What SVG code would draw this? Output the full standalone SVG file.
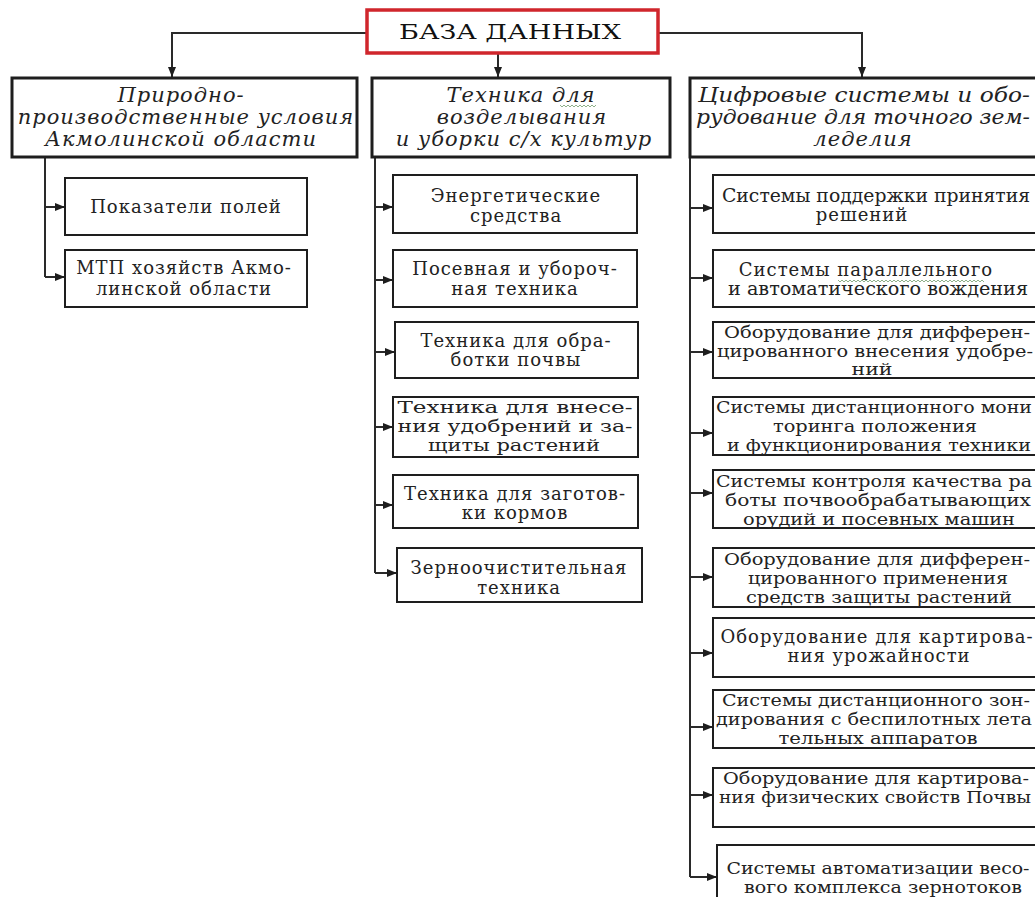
<svg xmlns="http://www.w3.org/2000/svg" width="1035" height="897" viewBox="0 0 1035 897">
<style>
.bg{fill:#fff}
.box{fill:#fff;stroke:#1e1e1e;stroke-width:2}
.hdr{fill:#fff;stroke:#1e1e1e;stroke-width:3}
.root{fill:#fff;stroke:#d0262c;stroke-width:3.5}
.t{font-family:"DejaVu Serif","Liberation Serif",serif;font-size:18px;letter-spacing:1px;fill:#222;text-anchor:middle}
.u{font-family:"DejaVu Serif","Liberation Serif",serif;font-size:18px;fill:#222;text-anchor:middle}
.s{font-family:"DejaVu Serif","Liberation Serif",serif;font-size:16px;fill:#222;text-anchor:middle}
.h{font-family:"DejaVu Serif","Liberation Serif",serif;font-size:21px;letter-spacing:1px;font-style:italic;fill:#222;text-anchor:middle}
.hn{font-family:"DejaVu Serif","Liberation Serif",serif;font-size:21px;font-style:italic;fill:#222;text-anchor:middle}
.ttl{font-family:"DejaVu Serif","Liberation Serif",serif;font-size:21px;fill:#111;text-anchor:middle}
.c{fill:none;stroke:#2a2a2a;stroke-width:2}
.sq{fill:none;stroke:#8fb08a;stroke-width:1}
</style>
<defs>
<marker id="ah" markerUnits="userSpaceOnUse" markerWidth="10" markerHeight="8" refX="10" refY="4" orient="auto">
<path d="M0,0 L10,4 L0,8 z" fill="#1e1e1e"/>
</marker>
</defs>
<rect class="bg" x="0" y="0" width="1035" height="897"/>

<g id="connectors">
<path class="c" d="M367,33 H172 V77" marker-end="url(#ah)"/>
<path class="c" d="M498,53 V77" marker-end="url(#ah)"/>
<path class="c" d="M658,33 H862 V77" marker-end="url(#ah)"/>
<path class="c" d="M45,157 V277"/>
<path class="c" d="M45,207 H65" marker-end="url(#ah)"/>
<path class="c" d="M45,277 H65" marker-end="url(#ah)"/>
<path class="c" d="M375,157 V573"/>
<path class="c" d="M375,207 H393" marker-end="url(#ah)"/>
<path class="c" d="M375,280 H393" marker-end="url(#ah)"/>
<path class="c" d="M375,352 H395" marker-end="url(#ah)"/>
<path class="c" d="M375,427 H393" marker-end="url(#ah)"/>
<path class="c" d="M375,505 H393" marker-end="url(#ah)"/>
<path class="c" d="M375,573 H397" marker-end="url(#ah)"/>
<path class="c" d="M690,157 V877"/>
<path class="c" d="M690,208 H713" marker-end="url(#ah)"/>
<path class="c" d="M690,278 H713" marker-end="url(#ah)"/>
<path class="c" d="M690,352 H713" marker-end="url(#ah)"/>
<path class="c" d="M690,433 H713" marker-end="url(#ah)"/>
<path class="c" d="M690,493 H713" marker-end="url(#ah)"/>
<path class="c" d="M690,577 H713" marker-end="url(#ah)"/>
<path class="c" d="M690,653 H713" marker-end="url(#ah)"/>
<path class="c" d="M690,727 H713" marker-end="url(#ah)"/>
<path class="c" d="M690,795 H713" marker-end="url(#ah)"/>
<path class="c" d="M690,877 H717" marker-end="url(#ah)"/>
</g>

<g id="root">
<rect class="root" x="367" y="10" width="291" height="43"/>
<text class="ttl" x="510" y="39" textLength="222" lengthAdjust="spacingAndGlyphs">БАЗА ДАННЫХ</text>
</g>

<g id="h1">
<rect class="hdr" x="12" y="78" width="345" height="79"/>
<text class="h" x="181" y="102">Природно-</text>
<text class="h" x="186" y="124">производственные условия</text>
<text class="h" x="181" y="146">Акмолинской области</text>
</g>
<g id="h2">
<rect class="hdr" x="372" y="78" width="298" height="79"/>
<text class="h" x="521" y="102">Техника для</text>
<path class="sq" d="M560,105 l2,2 l2,-2 l2,2 l2,-2 l2,2 l2,-2 l2,2 l2,-2 l2,2 l2,-2 l2,2 l2,-2 l2,2 l2,-2 l2,2 l2,-2 l2,2 l2,-2"/>
<text class="h" x="522" y="124">возделывания</text>
<text class="h" x="524" y="146">и уборки с/х культур</text>
</g>
<g id="h3">
<rect class="hdr" x="690" y="78" width="360" height="79"/>
<text class="hn" x="864" y="102" textLength="332" lengthAdjust="spacingAndGlyphs">Цифровые системы и обо-</text>
<text class="hn" x="863" y="124" textLength="334" lengthAdjust="spacingAndGlyphs">рудование для точного зем-</text>
<text class="h" x="863" y="146">леделия</text>
</g>

<g id="n-pokazateli">
<rect class="box" x="65" y="178" width="242" height="57"/>
<text class="t" x="186" y="213">Показатели полей</text>
</g>
<g id="n-mtp">
<rect class="box" x="65" y="250" width="242" height="57"/>
<text class="t" x="184" y="274">МТП хозяйств Акмо-</text>
<text class="t" x="184" y="295">линской области</text>
</g>

<g id="n-energ">
<rect class="box" x="393" y="175" width="244" height="58"/>
<text class="t" x="516" y="202">Энергетические</text>
<text class="t" x="516" y="222">средства</text>
</g>
<g id="n-posev">
<rect class="box" x="393" y="250" width="244" height="57"/>
<text class="t" x="515" y="275">Посевная и убороч-</text>
<text class="t" x="515" y="295">ная техника</text>
</g>
<g id="n-obrab">
<rect class="box" x="395" y="322" width="243" height="56"/>
<text class="t" x="516" y="347">Техника для обра-</text>
<text class="t" x="516" y="366">ботки почвы</text>
</g>
<g id="n-vnes">
<rect class="box" x="393" y="397" width="245" height="60"/>
<text class="s" x="515" y="413" textLength="235" lengthAdjust="spacingAndGlyphs">Техника для внесе-</text>
<text class="s" x="515" y="432" textLength="235" lengthAdjust="spacingAndGlyphs">ния удобрений и за-</text>
<text class="s" x="514" y="451" textLength="172" lengthAdjust="spacingAndGlyphs">щиты растений</text>
</g>
<g id="n-korm">
<rect class="box" x="393" y="475" width="245" height="53"/>
<text class="t" x="515" y="500">Техника для заготов-</text>
<text class="t" x="515" y="519">ки кормов</text>
</g>
<g id="n-zerno">
<rect class="box" x="397" y="548" width="245" height="54"/>
<text class="t" x="519" y="574">Зерноочистительная</text>
<text class="t" x="519" y="594">техника</text>
</g>

<g id="r1">
<rect class="box" x="713" y="175" width="340" height="58"/>
<text class="u" x="876" y="202" textLength="308" lengthAdjust="spacingAndGlyphs">Системы поддержки принятия</text>
<text class="t" x="862" y="221">решений</text>
</g>
<g id="r2">
<rect class="box" x="713" y="250" width="340" height="57"/>
<text class="t" x="866" y="276">Системы параллельного</text>
<path class="sq" d="M838,280 l2,2 l2,-2 l2,2 l2,-2 l2,2 l2,-2 l2,2 l2,-2 l2,2 l2,-2 l2,2 l2,-2 l2,2 l2,-2 l2,2 l2,-2 l2,2 l2,-2 l2,2 l2,-2 l2,2 l2,-2 l2,2 l2,-2 l2,2 l2,-2 l2,2 l2,-2 l2,2 l2,-2 l2,2 l2,-2 l2,2 l2,-2 l2,2 l2,-2 l2,2 l2,-2 l2,2 l2,-2 l2,2 l2,-2 l2,2 l2,-2 l2,2 l2,-2 l2,2 l2,-2 l2,2 l2,-2 l2,2 l2,-2 l2,2 l2,-2 l2,2 l2,-2 l2,2 l2,-2 l2,2 l2,-2 l2,2 l2,-2 l2,2 l2,-2 l2,2 l2,-2 l2,2 l2,-2 l2,2 l2,-2 l2,2 l2,-2 l2,2"/>
<text class="u" x="878" y="295" textLength="300" lengthAdjust="spacingAndGlyphs">и автоматического вождения</text>
</g>
<g id="r3">
<rect class="box" x="713" y="322" width="340" height="56"/>
<text class="s" x="877" y="338" textLength="306" lengthAdjust="spacingAndGlyphs">Оборудование для дифферен-</text>
<text class="s" x="875" y="357" textLength="316" lengthAdjust="spacingAndGlyphs">цированного внесения удобре-</text>
<text class="s" x="872" y="375" textLength="41" lengthAdjust="spacingAndGlyphs">ний</text>
</g>
<g id="r4">
<rect class="box" x="713" y="397" width="340" height="58"/>
<text class="s" x="874" y="413" textLength="316" lengthAdjust="spacingAndGlyphs">Системы дистанционного мони</text>
<text class="s" x="875" y="432" textLength="204" lengthAdjust="spacingAndGlyphs">торинга положения</text>
<text class="s" x="879" y="451" textLength="304" lengthAdjust="spacingAndGlyphs">и функционирования техники</text>
</g>
<g id="r5">
<rect class="box" x="713" y="470" width="340" height="58"/>
<text class="s" x="874" y="487" textLength="316" lengthAdjust="spacingAndGlyphs">Системы контроля качества ра</text>
<text class="s" x="878" y="506" textLength="306" lengthAdjust="spacingAndGlyphs">боты почвообрабатывающих</text>
<text class="s" x="879" y="525" textLength="272" lengthAdjust="spacingAndGlyphs">орудий и посевных машин</text>
</g>
<g id="r6">
<rect class="box" x="713" y="548" width="340" height="59"/>
<text class="s" x="877" y="565" textLength="306" lengthAdjust="spacingAndGlyphs">Оборудование для дифферен-</text>
<text class="s" x="878" y="584" textLength="260" lengthAdjust="spacingAndGlyphs">цированного применения</text>
<text class="s" x="879" y="603" textLength="266" lengthAdjust="spacingAndGlyphs">средств защиты растений</text>
</g>
<g id="r7">
<rect class="box" x="713" y="618" width="340" height="59"/>
<text class="t" x="877" y="643">Оборудование для картирова-</text>
<text class="t" x="879" y="662">ния урожайности</text>
</g>
<g id="r8">
<rect class="box" x="713" y="690" width="340" height="58"/>
<text class="s" x="876" y="706" textLength="308" lengthAdjust="spacingAndGlyphs">Системы дистанционного зон-</text>
<text class="s" x="874" y="725" textLength="316" lengthAdjust="spacingAndGlyphs">дирования с беспилотных лета</text>
<text class="s" x="878" y="744" textLength="199" lengthAdjust="spacingAndGlyphs">тельных аппаратов</text>
</g>
<g id="r9">
<rect class="box" x="713" y="768" width="340" height="59"/>
<text class="s" x="876" y="784" textLength="306" lengthAdjust="spacingAndGlyphs">Оборудование для картирова-</text>
<text class="s" x="875" y="803" textLength="312" lengthAdjust="spacingAndGlyphs">ния физических свойств Почвы</text>
</g>
<g id="r10">
<rect class="box" x="717" y="845" width="340" height="70"/>
<text class="s" x="878" y="874" textLength="303" lengthAdjust="spacingAndGlyphs">Системы автоматизации весо-</text>
<text class="s" x="883" y="893" textLength="278" lengthAdjust="spacingAndGlyphs">вого комплекса зернотоков</text>
</g>
</svg>
